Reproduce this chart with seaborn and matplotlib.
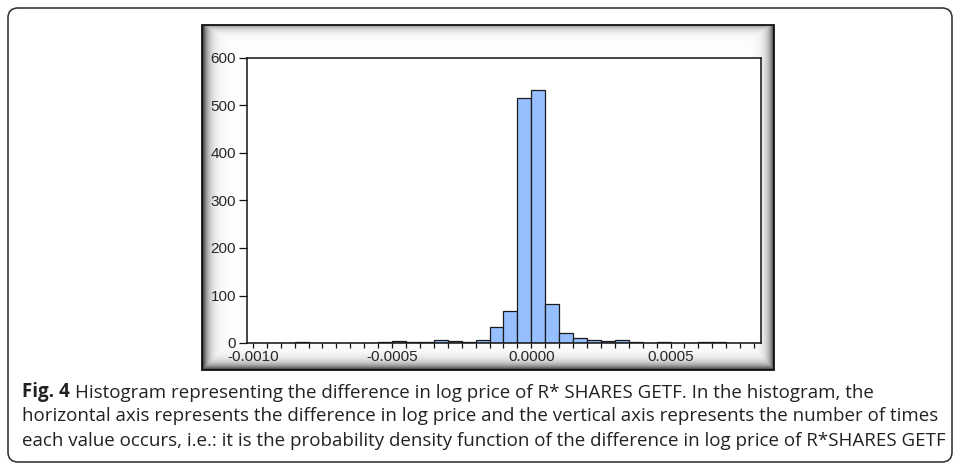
import numpy as np
import matplotlib
matplotlib.use("Agg")
import matplotlib.pyplot as plt
import seaborn as sns
from matplotlib.patches import FancyBboxPatch, Rectangle

# ---------------- data ----------------
bin_starts = [-0.00100, -0.00095, -0.00090, -0.00085, -0.00080, -0.00075,
              -0.00070, -0.00065, -0.00060, -0.00055, -0.00050, -0.00045,
              -0.00040, -0.00035, -0.00030, -0.00025, -0.00020, -0.00015,
              -0.00010, -0.00005, 0.00000, 0.00005, 0.00010, 0.00015,
              0.00020, 0.00025, 0.00030, 0.00035, 0.00040, 0.00045,
              0.00050, 0.00055, 0.00060, 0.00065, 0.00070, 0.00075]
counts = [1, 0, 0, 2, 0, 1, 1, 0, 1, 3, 4, 2, 2, 7, 5, 3, 6, 34, 68, 516,
          533, 82, 22, 11, 7, 5, 6, 2, 1, 3, 1, 1, 3, 3, 0, 1]
bin_width = 0.00005
x_tick_values = [-0.0010, -0.0005, 0.0000, 0.0005]
x_tick_labels = ["-0.0010", "-0.0005", "0.0000", "0.0005"]
y_tick_values = [0, 100, 200, 300, 400, 500, 600]

caption_bold = "Fig. 4"
caption_line1 = "Histogram representing the difference in log price of R* SHARES GETF. In the histogram, the"
caption_line2 = "horizontal axis represents the difference in log price and the vertical axis represents the number of times"
caption_line3 = "each value occurs, i.e.: it is the probability density function of the difference in log price of R*SHARES GETF"

# ---------------- figure ----------------
sns.set_theme(style="white")
plt.rcParams["axes.unicode_minus"] = False
plt.rcParams["font.family"] = ["Liberation Sans", "DejaVu Sans"]

W, H = 956, 467
fig = plt.figure(figsize=(W / 100, H / 100), dpi=100)
fig.patch.set_facecolor("white")

bg = fig.add_axes([0, 0, 1, 1])
bg.set_xlim(0, W)
bg.set_ylim(H, 0)
bg.axis("off")

# outer rounded box
box = FancyBboxPatch((8, 8), 944, 454, boxstyle="round,pad=0,rounding_size=10",
                     fc="white", ec="#3a3a3a", lw=1.2)
bg.add_patch(box)

# chart image frame with shaded edges
fx0, fx1, fy0, fy1 = 202, 774, 25, 370
fw, fh = fx1 - fx0, fy1 - fy0
xs = np.arange(fw)[None, :]
ys = np.arange(fh)[:, None]
dark = np.maximum.reduce([
    0.85 * np.exp(-xs / 5.5) * np.ones_like(ys),
    0.75 * np.exp(-(fw - 1 - xs) / 5.0) * np.ones_like(ys),
    0.40 * np.exp(-ys / 4.0) * np.ones_like(xs),
    0.80 * np.exp(-(fh - 1 - ys) / 5.5) * np.ones_like(xs),
])
img = np.clip(1 - dark, 0, 1)
rgb = np.dstack([img, img, img])
bg.imshow(rgb, extent=(fx0, fx1, fy1, fy0), interpolation="bilinear", zorder=1)
bg.add_patch(Rectangle((fx0, fy0), fw, fh, fc="none", ec="#111111", lw=1.3, zorder=2))
bg.set_xlim(0, W)
bg.set_ylim(H, 0)
bg.set_aspect("auto")

# ---------------- histogram axes ----------------
ax_l, ax_r, ax_t, ax_b = 247, 761, 58, 343
ax = fig.add_axes([ax_l / W, 1 - ax_b / H, (ax_r - ax_l) / W, (ax_b - ax_t) / H])
ax.set_facecolor("white")

centers = np.array(bin_starts) + bin_width / 2
sns.histplot(x=centers, weights=counts, binwidth=bin_width,
             binrange=(bin_starts[0], bin_starts[-1] + bin_width),
             color="#96bfff", edgecolor="#1a1a1a", linewidth=0.9,
             alpha=1.0, ax=ax)

ax.set_xlim(-0.001021, 0.000825)
ax.set_ylim(0, 600)
ax.set_xlabel("")
ax.set_ylabel("")
ax.set_xticks(x_tick_values)
ax.set_xticklabels(x_tick_labels)
edges = list(bin_starts) + [bin_starts[-1] + bin_width]
ax.set_xticks(edges, minor=True)
ax.set_yticks(y_tick_values)
ax.tick_params(axis="x", which="both", direction="out", length=3.5, width=0.9,
               color="#111111", labelsize=11, pad=1.5, bottom=True)
ax.tick_params(axis="y", which="both", direction="out", length=5.5, width=0.9,
               color="#111111", labelsize=11, pad=2.5, left=True)
for s in ax.spines.values():
    s.set_visible(True)
    s.set_color("#111111")
    s.set_linewidth(1.1)
ax.grid(False)

# ---------------- caption ----------------
cap_font = ["Open Sans", "DejaVu Sans"]
x0 = 22
target_right = 942
cap_size = 13.0
t3 = bg.text(x0, 446, caption_line3, fontsize=cap_size, family=cap_font,
             color="#222222", va="baseline", ha="left", zorder=5)
fig.canvas.draw()
bb = t3.get_window_extent(renderer=fig.canvas.get_renderer())
cap_size = cap_size * (target_right - x0) / bb.width
t3.set_fontsize(cap_size)

t1 = bg.text(x0, 397, caption_bold, fontsize=cap_size, fontweight="bold",
             family=cap_font, color="#222222", va="baseline", ha="left", zorder=5)
bg.annotate(caption_line1, xy=(1, 0), xycoords=t1, xytext=(3.5, 0),
            textcoords="offset points", fontsize=cap_size, family=cap_font,
            color="#222222", va="bottom", ha="left", zorder=5)
bg.text(x0, 421, caption_line2, fontsize=cap_size, family=cap_font,
        color="#222222", va="baseline", ha="left", zorder=5)

fig.savefig("out.png", dpi=100)
